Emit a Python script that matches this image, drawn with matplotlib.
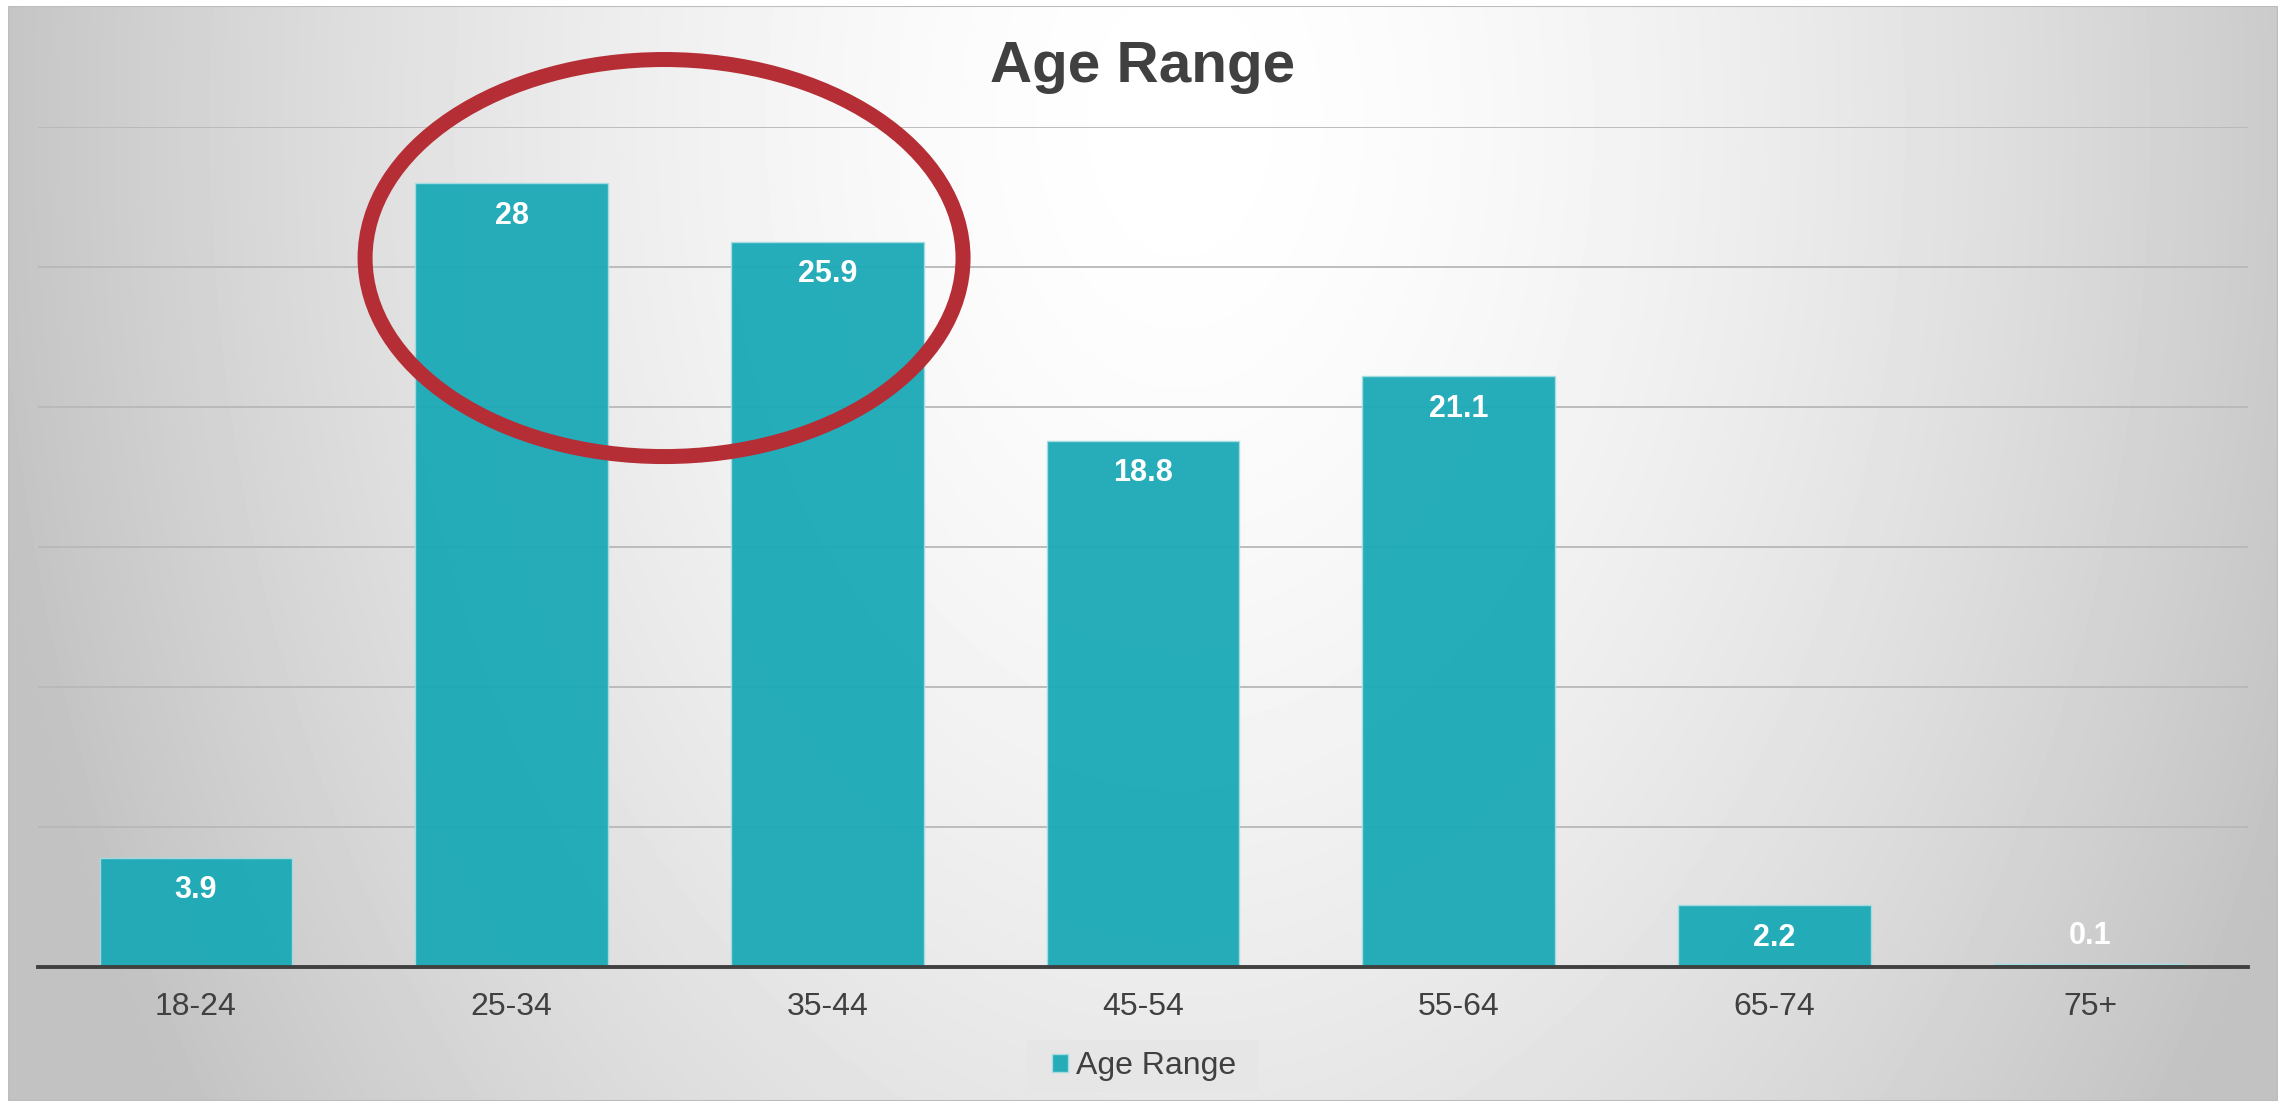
import numpy as np
import matplotlib
matplotlib.use('Agg')
import matplotlib.pyplot as plt
from matplotlib.patches import Ellipse, Rectangle

plt.rcParams['font.family'] = ['Liberation Sans', 'DejaVu Sans']

# data
categories = ['18-24', '25-34', '35-44', '45-54', '55-64', '65-74', '75+']
values = [3.9, 28, 25.9, 18.8, 21.1, 2.2, 0.1]
series_name = 'Age Range'
title = 'Age Range'

W, H = 2287, 1104
fig = plt.figure(figsize=(W / 100, H / 100), dpi=100)
fig.patch.set_facecolor('white')

# chart area frame with a radial grey gradient
fl, fr, ft, fb = 8, 2278, 6, 1101
bg = fig.add_axes([fl / W, 1 - fb / H, (fr - fl) / W, (fb - ft) / H], zorder=0)
xs = np.linspace(fl, fr, 460)
ys = np.linspace(ft, fb, 220)
X, Y = np.meshgrid(xs, ys)
r = np.sqrt(((X - 1180) / 1200) ** 2 + ((Y - 120) / 1750) ** 2)
v = np.clip(255 - 60 * r ** 1.6, 194, 255) / 255
bg.imshow(v, cmap='gray', vmin=0, vmax=1, extent=[0, 1, 0, 1],
          aspect='auto', interpolation='bilinear', origin='upper')
bg.add_patch(Rectangle((0, 0), 1, 1, transform=bg.transAxes, fill=False,
                       edgecolor='#bdbdbd', lw=1.5))
bg.set_axis_off()

# plot area
ax = fig.add_axes([38 / W, 1 - 967 / H, (2248 - 38) / W, (967 - 127) / H], zorder=1)
ax.set_facecolor('none')
x = np.arange(len(categories))
bars = ax.bar(x, values, width=0.61, color='#1aa9b6', alpha=0.95,
              edgecolor='#a6dde2', linewidth=1, label=series_name, zorder=3)

ax.set_xlim(-0.5, len(categories) - 0.5)
ax.set_ylim(0, 30)
ax.set_yticks(np.arange(0, 31, 5))
ax.yaxis.grid(True, color='#b8b8b8', lw=1.3, zorder=0)
ax.set_axisbelow(True)
ax.tick_params(axis='y', length=0, labelleft=False)
ax.set_xticks(x)
ax.set_xticklabels(categories, fontsize=23, color='#404040')
ax.tick_params(axis='x', length=0, pad=18)
for s in ['left', 'right', 'top']:
    ax.spines[s].set_visible(False)
ax.spines['bottom'].set_color('#404040')
ax.spines['bottom'].set_linewidth(2.8)
ax.spines['bottom'].set_zorder(4)

# value labels inside the bar end; tiny bars keep the label above the axis
for xi, val in zip(x, values):
    if val < 2.2:
        pos, off = (xi, 0), 22.5
    else:
        pos, off = (xi, val), -23.5
    ax.annotate(f'{val:g}', pos, xytext=(0, off), textcoords='offset points',
                ha='center', va='center', fontsize=22, fontweight='bold',
                color='white', zorder=5)

# red ellipse highlight
ax.add_patch(Ellipse((1.483, 25.32), 1.894, 14.18, fill=False,
                     edgecolor='#b52d35', lw=10.8, clip_on=False, zorder=6))

fig.text(1143 / W, 1 - 82 / H, title, ha='center', va='baseline',
         fontsize=42, fontweight='bold', color='#404040')

# legend with its own light box (drawn between background and plot axes)
fig.patches.append(Rectangle((1027 / W, 1 - 1092 / H), 231 / W, 52 / H,
                             transform=fig.transFigure, facecolor='#e6e6e6',
                             edgecolor='none', zorder=0.5))
leg = ax.legend(loc='center', bbox_to_anchor=(1144 / W, 1 - 1066 / H),
                bbox_transform=fig.transFigure, fontsize=23, frameon=False,
                handlelength=0.5, handleheight=0.5, handletextpad=0.25)
for t in leg.get_texts():
    t.set_color('#404040')

fig.savefig('out.png', dpi=100)
